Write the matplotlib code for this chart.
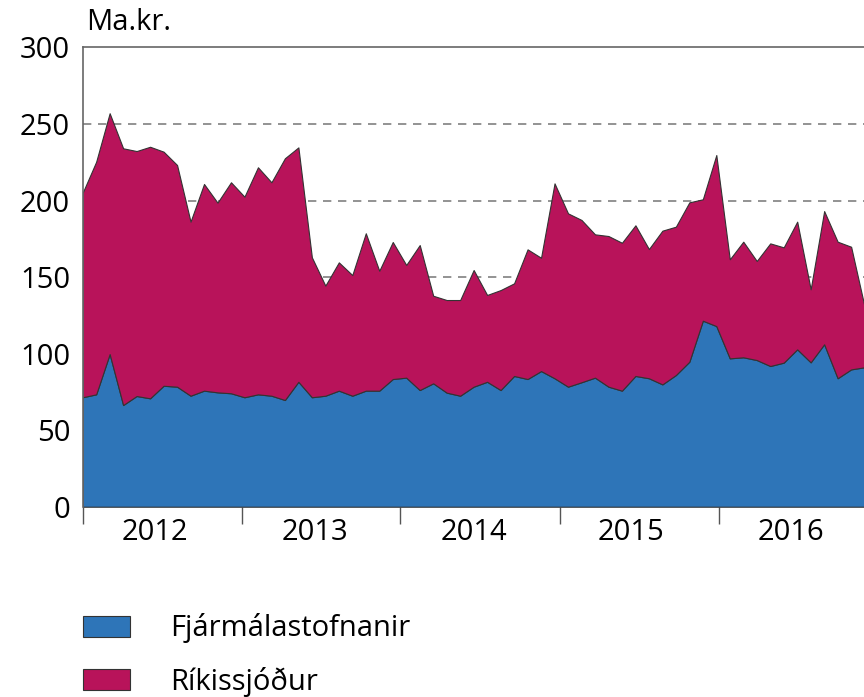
import matplotlib.pyplot as plt
import numpy as np

# Mánaðarleg gögn, jan 2012 - nóv 2016 (ma.kr.)
fjarmalastofnanir = [71.5, 73.4, 99.7, 66.4, 72.3, 70.8, 79.0, 78.4, 72.5, 75.8, 74.7, 74.1,
                     71.5, 73.4, 72.5, 69.7, 81.6, 71.5, 72.5, 75.8, 72.5, 75.8, 75.8, 83.4,
                     84.3, 76.2, 80.6, 74.5, 72.5, 78.4, 81.6, 76.2, 85.4, 83.4, 88.6, 83.9,
                     78.4, 81.3, 84.3, 78.4, 75.8, 85.4, 83.9, 79.9, 86.0, 94.7, 121.5, 118.0,
                     96.9, 97.6, 95.8, 91.9, 94.1, 102.8, 94.3, 106.1, 83.9, 89.7, 91.1]
rikissjodur = [133.6, 151.9, 157.3, 167.7, 160.0, 164.3, 152.9, 144.8, 113.7, 135.0, 123.9, 137.8,
               131.0, 148.3, 139.4, 157.9, 153.1, 91.4, 71.9, 83.8, 78.8, 102.8, 78.3, 89.5,
               73.6, 94.7, 57.2, 60.5, 62.5, 76.2, 56.7, 65.3, 60.5, 84.7, 74.0, 127.3,
               113.2, 106.0, 93.6, 98.4, 96.6, 98.4, 84.4, 100.4, 96.9, 104.1, 79.3, 111.7,
               64.7, 75.5, 64.7, 80.1, 75.3, 83.4, 47.7, 87.0, 89.2, 80.1, 39.5]
ar = ['2012', '2013', '2014', '2015', '2016']
ar_skil = [0, 11.81, 23.57, 35.39, 47.18]
ar_midja = [5.37, 17.26, 29.0, 40.66, 52.55]

blar = '#2e75b8'
rautt = '#b8135a'
fs = 21

plt.rcParams['font.family'] = ['Open Sans', 'DejaVu Sans']

fig = plt.figure(figsize=(8.64, 6.97), dpi=100)
ax = fig.add_axes([0.0957, 0.273, 0.905, 0.659])

x = np.arange(len(fjarmalastofnanir))
ax.stackplot(x, fjarmalastofnanir, rikissjodur, colors=[blar, rautt],
             edgecolor='#333333', linewidth=0.8, zorder=2,
             labels=['Fjármálastofnanir', 'Ríkissjóður'])

ax.set_xlim(0, len(x) - 1)
ax.set_ylim(0, 300)
ax.set_yticks(np.arange(0, 301, 50))
for yv in range(50, 300, 50):
    ax.axhline(yv, color='#808080', linestyle=(0, (5, 4)), linewidth=1.2, zorder=1)

ax.set_xticks(ar_skil)
ax.set_xticklabels([])
ax.set_xticks(ar_midja, minor=True)
ax.set_xticklabels(ar, minor=True)
ax.tick_params(axis='x', which='major', length=12, width=1, color='#555555', direction='out')
ax.tick_params(axis='x', which='minor', length=0, labelsize=fs, pad=8)
ax.tick_params(axis='y', length=0, labelsize=fs, pad=9)

for s in ['left', 'top']:
    ax.spines[s].set_color('#666666')
    ax.spines[s].set_linewidth(1.2)
ax.spines['right'].set_visible(False)
ax.spines['bottom'].set_visible(False)

fig.text(0.100, 0.968, 'Ma.kr.', fontsize=fs, va='center', ha='left')

fig.legend(loc='upper left', bbox_to_anchor=(0.096, 0.120), frameon=False,
           borderpad=0, borderaxespad=0, fontsize=fs, handlelength=1.6,
           handleheight=0.75, handletextpad=1.4, labelspacing=0.8)

fig.savefig('out.png', dpi=100)
